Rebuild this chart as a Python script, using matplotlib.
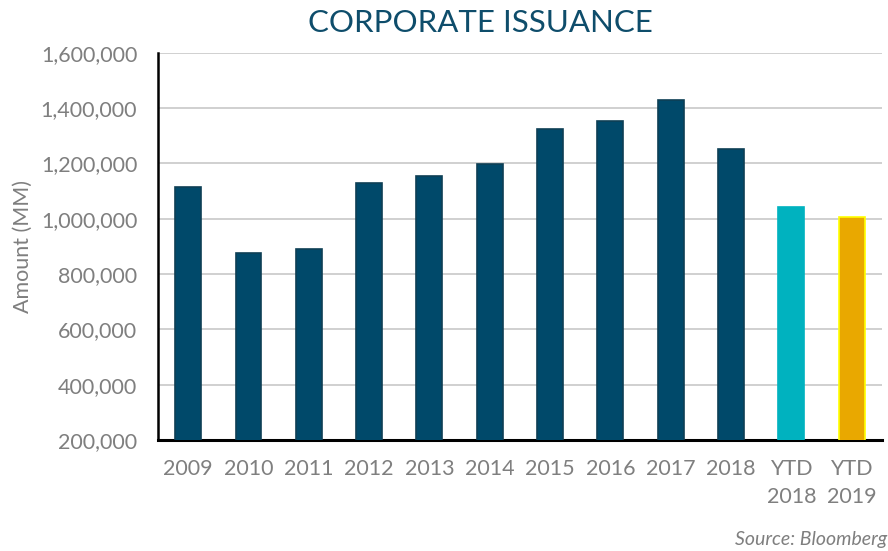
import matplotlib.pyplot as plt
from matplotlib.ticker import FuncFormatter

plt.rcParams['font.family'] = ['Lato', 'DejaVu Sans']

labels = ['2009', '2010', '2011', '2012', '2013', '2014', '2015', '2016', '2017', '2018',
          'YTD\n2018', 'YTD\n2019']
amounts = [1115000, 876000, 891000, 1128000, 1155000, 1198000, 1325000, 1354000, 1430000,
           1252000, 1043000, 1005000]
colors = ['#00496A'] * 10 + ['#00B2BF', '#E9A800']
edges = ['#0E3F55'] * 10 + ['#00B2BF', '#FFFF00']

fig = plt.figure(figsize=(8.88, 5.51), dpi=100)
ax = fig.add_axes([0.178, 0.2015, 0.815, 0.7025])

x = range(len(labels))
ax.bar(x, amounts, width=0.43, color=colors, edgecolor=edges, linewidth=1.2, zorder=3)

ax.set_ylim(200000, 1600000)
ax.set_xlim(-0.5, len(labels) - 0.5)
ax.set_yticks(range(200000, 1600001, 200000))
ax.yaxis.set_major_formatter(FuncFormatter(lambda v, p: f'{int(v):,}'))
ax.set_xticks(list(x))
ax.set_xticklabels(labels, linespacing=1.45)

ax.grid(axis='y', color='#C8C8C8', linewidth=1.2, zorder=0)
ax.tick_params(axis='both', length=0, labelsize=15.5, colors='#7F7F7F')
ax.tick_params(axis='y', pad=15)
ax.tick_params(axis='x', pad=14)
for s in ['top', 'right']:
    ax.spines[s].set_visible(False)
ax.spines['left'].set_color('black')
ax.spines['left'].set_linewidth(1.8)
ax.spines['bottom'].set_color('black')
ax.spines['bottom'].set_linewidth(2.2)

ax.set_ylabel('Amount (MM)', fontsize=15.5, color='#7F7F7F', labelpad=6)
fig.text(0.541, 0.958, 'CORPORATE ISSUANCE', ha='center', va='center', fontsize=22.5, color='#0E4D6B')
fig.text(0.999, 0.005, 'Source: Bloomberg', ha='right', va='bottom', fontsize=14,
         style='italic', color='#7F7F7F')

fig.savefig('out.png', dpi=100)
